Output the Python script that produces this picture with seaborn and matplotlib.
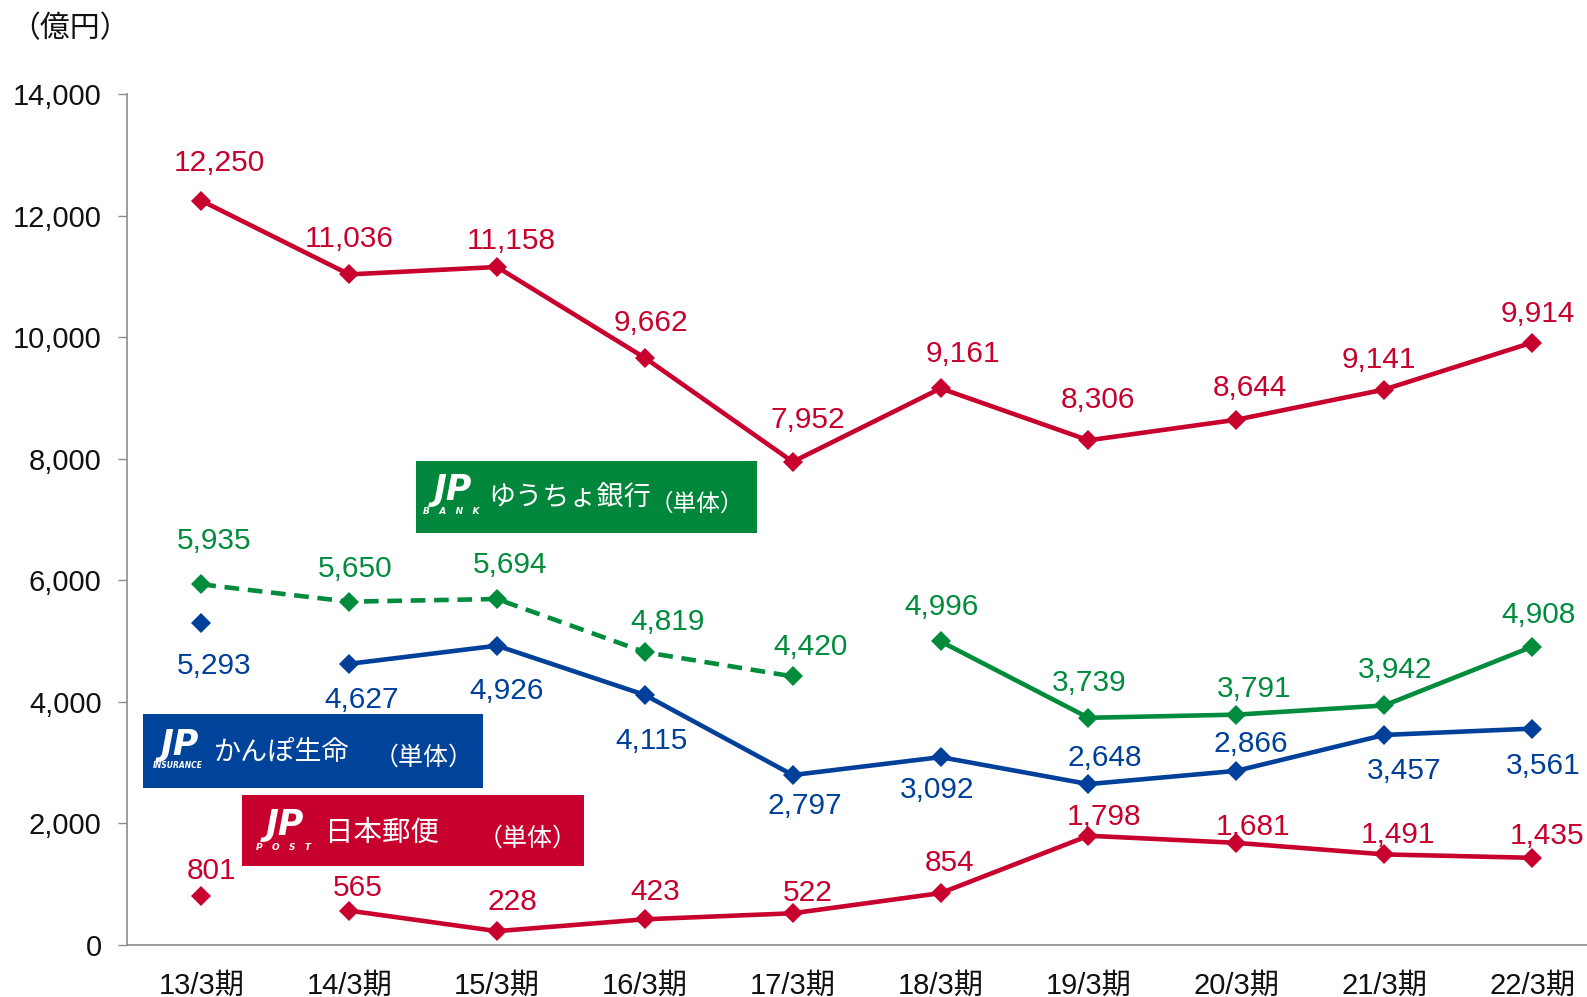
import numpy as np
import pandas as pd
import matplotlib
matplotlib.use("Agg")
import matplotlib.pyplot as plt
import seaborn as sns
from matplotlib.patches import Rectangle

# ---------------- data ----------------
categories = ["13/3期", "14/3期", "15/3期", "16/3期", "17/3期",
              "18/3期", "19/3期", "20/3期", "21/3期", "22/3期"]
group_total = [12250, 11036, 11158, 9662, 7952, 9161, 8306, 8644, 9141, 9914]
bank = [5935, 5650, 5694, 4819, 4420, 4996, 3739, 3791, 3942, 4908]
insurance = [5293, 4627, 4926, 4115, 2797, 3092, 2648, 2866, 3457, 3561]
post = [801, 565, 228, 423, 522, 854, 1798, 1681, 1491, 1435]
y_ticks = [0, 2000, 4000, 6000, 8000, 10000, 12000, 14000]
unit_label = "（億円）"

# ---------------- style ----------------
RED = "#C8002D"
GREEN = "#008C3C"
BLUE = "#00409A"
GRAY = "#8C8C8C"
W, H = 1587, 997
S = 1587 / 1568

sns.set_style("white")
plt.rcParams["font.family"] = ["Liberation Sans", "Noto Sans CJK JP", "DejaVu Sans"]
CJK = ["Noto Sans CJK JP", "DejaVu Sans"]

fig = plt.figure(figsize=(W / 100, H / 100), dpi=100)
ax_l, ax_r, ax_t, ax_b = 127.4, 1606.0, 94.3, 945.0
ax = fig.add_axes([ax_l / W, 1 - ax_b / H, (ax_r - ax_l) / W, (ax_b - ax_t) / H])

x = np.arange(len(categories))


def seg(values, idx):
    return pd.DataFrame({"x": x[idx], "v": np.array(values)[idx]})


line_kw = dict(marker="D", markersize=10.5, markeredgewidth=0, linewidth=3.3)

sns.lineplot(data=seg(group_total, slice(0, 10)), x="x", y="v", ax=ax, color=RED, **line_kw)
sns.lineplot(data=seg(bank, slice(0, 5)), x="x", y="v", ax=ax, color=GREEN,
             linestyle=(0, (3.2, 1.9)), **line_kw)
sns.lineplot(data=seg(bank, slice(5, 10)), x="x", y="v", ax=ax, color=GREEN, **line_kw)
sns.lineplot(data=seg(insurance, slice(0, 1)), x="x", y="v", ax=ax, color=BLUE, **line_kw)
sns.lineplot(data=seg(insurance, slice(1, 10)), x="x", y="v", ax=ax, color=BLUE, **line_kw)
sns.lineplot(data=seg(post, slice(0, 1)), x="x", y="v", ax=ax, color=RED, **line_kw)
sns.lineplot(data=seg(post, slice(1, 10)), x="x", y="v", ax=ax, color=RED, **line_kw)

# data label offsets (pixels, y up)
total_off = [(18, 40), (0, 38), (14, 29), (6, 37), (15, 44), (22, 37), (9, 43), (13, 34), (-5, 32), (6, 31)]
bank_off = [(13, 46), (6, 35), (13, 37), (22, 33), (18, 32), (1, 37), (1, 37), (18, 28), (11, 38), (6, 34)]
ins_off = [(13, -39), (12, -33), (9, -42), (7, -43), (12, -28), (-3, -30), (16, 29), (14, 29), (20, -33), (11, -34)]
post_off = [(10, 28), (8, 25), (15, 32), (10, 30), (15, 23), (9, 33), (15, 21), (17, 19), (14, 22), (15, 25)]

for vals, offs, col in [(group_total, total_off, RED), (bank, bank_off, GREEN),
                        (insurance, ins_off, BLUE), (post, post_off, RED)]:
    for xi, v, (dx, dy) in zip(x, vals, offs):
        ax.annotate(f"{v:,}", (xi, v), xytext=(dx * S, dy * S), textcoords="offset pixels",
                    ha="center", va="center_baseline", color=col, fontsize=21.5)

# axes
ax.set_xlim(-0.5, 9.5)
ax.set_ylim(0, 14000)
ax.set_yticks(y_ticks)
ax.set_yticklabels([f"{t:,}" for t in y_ticks])
ax.set_xticks(x)
ax.set_xticklabels(categories)
ax.set_xlabel("")
ax.set_ylabel("")
ax.tick_params(axis="y", which="major", length=6.5, width=1, color=GRAY, pad=12,
               labelsize=21, labelcolor="#111111", direction="out", left=True)
ax.tick_params(axis="x", which="major", length=0, pad=19, labelsize=21, labelcolor="#111111")
for s in ["top", "right"]:
    ax.spines[s].set_visible(False)
for s in ["left", "bottom"]:
    ax.spines[s].set_color(GRAY)
    ax.spines[s].set_linewidth(1.2)

fig.text(10 / W, 1 - 29 / H, unit_label, family=CJK, fontsize=21.5, ha="left", va="center",
         color="#111111")


# ---------------- name boxes (full-size pixel coordinates) ----------------
def box(x0, y0, x1, y1, color):
    fig.add_artist(Rectangle((x0 / W, 1 - y1 / H), (x1 - x0) / W, (y1 - y0) / H,
                             transform=fig.transFigure, facecolor=color, edgecolor="none", zorder=5))


def ftext(px, py, s, **kw):
    fig.text(px / W, 1 - py / H, s, color="white", zorder=6, **kw)


def logo(cx, cy, sub, subsize, suby):
    ftext(cx, cy, "JP", family=["DejaVu Sans"], fontsize=25, fontweight="heavy",
          fontstyle="italic", ha="center", va="center")
    ftext(cx - 2, suby, sub, family=["DejaVu Sans"], fontsize=subsize, fontweight="bold",
          fontstyle="italic", ha="center", va="center")


# bank
box(416, 461, 757, 533, "#00873C")
logo(453, 490, "B   A   N   K", 6.5, 512)
ftext(488, 498, "ゆうちょ銀行", family=CJK, fontsize=19.5, ha="left", va="center")
ftext(650, 504, "（単体）", family=CJK, fontsize=17, ha="left", va="center")

# insurance
box(143, 714, 483, 788, "#00439B")
logo(180, 745, "INSURANCE", 5.5, 766)
ftext(214, 753, "かんぽ生命", family=CJK, fontsize=19.5, ha="left", va="center")
ftext(374, 758, "（単体）", family=CJK, fontsize=18, ha="left", va="center")

# post
box(242, 795, 584, 866, RED)
logo(285, 825, "P   O   S   T", 6.5, 847)
ftext(325, 833, "日本郵便", family=CJK, fontsize=20.5, ha="left", va="center")
ftext(478, 839, "（単体）", family=CJK, fontsize=18, ha="left", va="center")

fig.savefig("out.png", dpi=100)
